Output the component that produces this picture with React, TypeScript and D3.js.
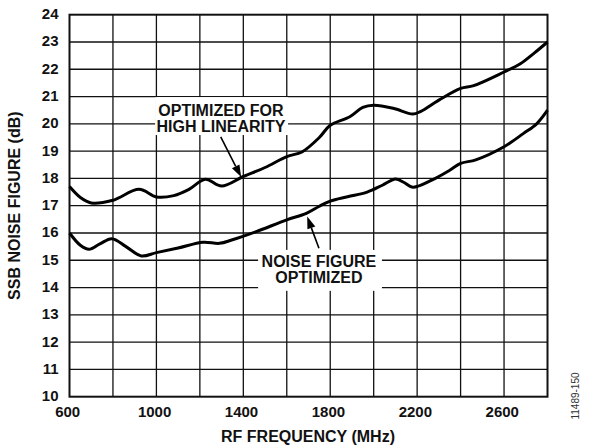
import React from "react";
import * as d3 from "d3";

const xTicks = [600, 1000, 1400, 1800, 2200, 2600];
const xGrid = [800, 1000, 1200, 1400, 1600, 1800, 2000, 2200, 2400, 2600];
const yTicks = [10, 11, 12, 13, 14, 15, 16, 17, 18, 19, 20, 21, 22, 23, 24];

const highLinFreq = [600, 650, 700, 800, 920, 1000, 1080, 1150, 1225, 1300, 1400, 1500, 1600, 1670, 1750, 1800, 1890, 1950, 2000, 2090, 2180, 2215, 2300, 2400, 2460, 2600, 2675, 2740, 2800];
const highLinNF = [17.7, 17.3, 17.1, 17.2, 17.6, 17.32, 17.37, 17.6, 17.97, 17.72, 18.07, 18.4, 18.8, 18.97, 19.5, 19.95, 20.26, 20.6, 20.68, 20.57, 20.36, 20.45, 20.87, 21.3, 21.4, 21.9, 22.2, 22.6, 23.0];

const nfOptFreq = [600, 650, 690, 740, 795, 860, 930, 1000, 1100, 1215, 1290, 1350, 1460, 1600, 1690, 1750, 1800, 1880, 1970, 2040, 2100, 2140, 2180, 2270, 2350, 2400, 2470, 2600, 2690, 2750, 2800];
const nfOptNF = [16.0, 15.55, 15.4, 15.6, 15.79, 15.5, 15.16, 15.28, 15.45, 15.66, 15.62, 15.75, 16.05, 16.48, 16.72, 16.98, 17.17, 17.33, 17.5, 17.75, 17.98, 17.85, 17.68, 17.95, 18.3, 18.55, 18.68, 19.16, 19.65, 20.0, 20.5];

const W = 598, H = 448;
const left = 69.5, right = 547.5, top = 14.7, bottom = 396.7;
const FONT = "'Liberation Sans', Arial, Helvetica, sans-serif";

export default function App() {
  const x = d3.scaleLinear().domain([600, 2800]).range([left, right]);
  const y = d3.scaleLinear().domain([10, 24]).range([bottom, top]);

  const line = d3
    .line<[number, number]>()
    .x((d) => x(d[0]))
    .y((d) => y(d[1]))
    .curve(d3.curveCatmullRom.alpha(0.5));

  const hl = highLinFreq.map((f, i) => [f, highLinNF[i]] as [number, number]);
  const nf = nfOptFreq.map((f, i) => [f, nfOptNF[i]] as [number, number]);

  const arrow = (x1: number, y1: number, x2: number, y2: number, key: string) => {
    const ang = Math.atan2(y2 - y1, x2 - x1);
    const L = 12, Wd = 4.2;
    const bx = x2 - L * Math.cos(ang), by = y2 - L * Math.sin(ang);
    const px = -Math.sin(ang) * Wd, py = Math.cos(ang) * Wd;
    return (
      <g key={key}>
        <line x1={x1} y1={y1} x2={bx} y2={by} stroke="#000" strokeWidth={1.6} />
        <path d={`M${x2},${y2}L${bx + px},${by + py}L${bx - px},${by - py}Z`} fill="#000" />
      </g>
    );
  };

  const lineGap = y(19.71) - y(20.29);

  return (
    <svg width={W} height={H} style={{ position: "absolute", left: 0, top: 0, background: "#fff" }}>
      <rect x={0} y={0} width={W} height={H} fill="#fff" />
      {/* grid */}
      {xGrid.map((f) => (
        <line key={"vx" + f} x1={x(f)} x2={x(f)} y1={top} y2={bottom} stroke="#111" strokeWidth={1.3} />
      ))}
      {yTicks.slice(1, -1).map((v) => (
        <line key={"hy" + v} x1={left} x2={right} y1={y(v)} y2={y(v)} stroke="#111" strokeWidth={1.3} />
      ))}
      {/* annotation backgrounds */}
      <rect x={x(994)} y={y(20.98)} width={x(1606) - x(994)} height={y(19.59) - y(20.98)} fill="#fff" />
      <rect x={x(1468)} y={y(15.38)} width={x(2038) - x(1468)} height={y(13.88) - y(15.38)} fill="#fff" />
      {/* frame */}
      <rect x={left} y={top} width={right - left} height={bottom - top} fill="none" stroke="#111" strokeWidth={2} />
      {/* curves */}
      <path d={line(hl) || ""} fill="none" stroke="#000" strokeWidth={3} strokeLinejoin="round" />
      <path d={line(nf) || ""} fill="none" stroke="#000" strokeWidth={3} strokeLinejoin="round" />
      {/* annotations */}
      <g fontFamily={FONT} fontWeight="bold" fontSize={16} textAnchor="middle" fill="#111">
        <text x={x(1297)} y={y(20.29)}>
          <tspan x={x(1297)}>OPTIMIZED FOR</tspan>
          <tspan x={x(1297)} dy={lineGap}>HIGH LINEARITY</tspan>
        </text>
        <text x={x(1748)} y={y(14.74)}>
          <tspan x={x(1748)}>NOISE FIGURE</tspan>
          <tspan x={x(1748)} dy={lineGap}>OPTIMIZED</tspan>
        </text>
      </g>
      {arrow(x(1296), y(19.52), x(1390), y(18.05), "a1")}
      {arrow(x(1748), y(15.44), x(1694), y(16.6), "a2")}
      {/* tick labels */}
      <g fontFamily={FONT} fontWeight="bold" fontSize={15} fill="#111">
        {yTicks.map((v) => (
          <text key={"yl" + v} x={58.5} y={y(v) - 1} textAnchor="end" dominantBaseline="central">
            {v}
          </text>
        ))}
        {xTicks.map((f) => (
          <text key={"xl" + f} x={x(f) - 1.8} y={417} textAnchor="middle">
            {f}
          </text>
        ))}
      </g>
      {/* axis titles */}
      <text x={308} y={442} textAnchor="middle" fontFamily={FONT} fontWeight="bold" fontSize={16} fill="#111">
        RF FREQUENCY (MHz)
      </text>
      <text
        transform={`translate(20,${(top + bottom) / 2}) rotate(-90)`}
        textAnchor="middle"
        fontFamily={FONT}
        fontWeight="bold"
        fontSize={16}
        fill="#111"
      >
        SSB NOISE FIGURE (dB)
      </text>
      <text
        transform={`translate(579,396) rotate(-90)`}
        textAnchor="middle"
        fontFamily={FONT}
        fontSize={10}
        fill="#333"
      >
        11489-150
      </text>
    </svg>
  );
}
